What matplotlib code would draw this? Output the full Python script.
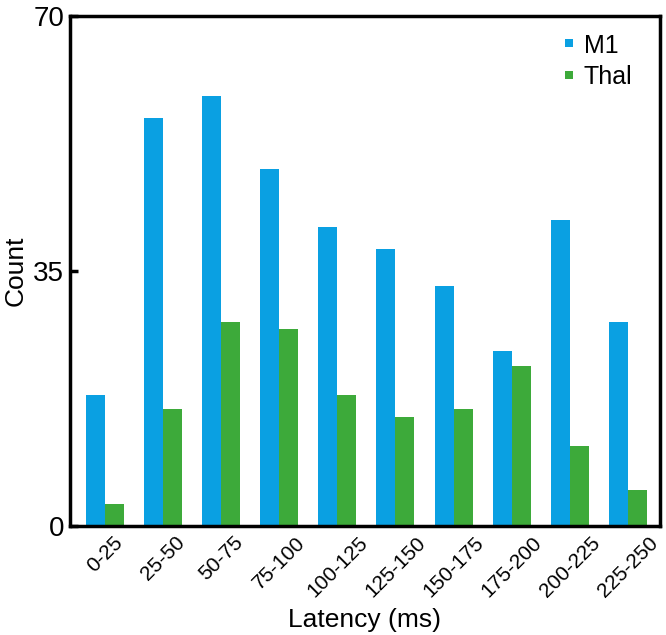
import matplotlib
matplotlib.use("Agg")
import matplotlib.pyplot as plt
import numpy as np

categories = ["0-25", "25-50", "50-75", "75-100", "100-125", "125-150",
              "150-175", "175-200", "200-225", "225-250"]
m1 = [18, 56, 59, 49, 41, 38, 33, 24, 42, 28]
thal = [3, 16, 28, 27, 18, 15, 16, 22, 11, 5]
yticks = [0, 35, 70]

plt.rcParams['font.family'] = ['Liberation Sans', 'DejaVu Sans']

fig = plt.figure(figsize=(6.66, 6.35), dpi=100)
ax = fig.add_axes([0.105, 0.1717, 0.886, 0.803])

x = np.arange(len(categories))
w = 0.327
ax.bar(x - w/2, m1, width=w, color='#0AA0E2', label='M1')
ax.bar(x + w/2, thal, width=w, color='#3DAA3A', label='Thal')

ax.set_xlim(-0.60, len(categories) - 1 + 0.55)
ax.set_ylim(0, 70)
ax.set_yticks(yticks)
ax.set_yticklabels([str(v) for v in yticks], fontsize=20)
ax.set_xticks(x)
ax.set_xticklabels(categories, rotation=45, ha='center', va='top', fontsize=15)
ax.tick_params(axis='x', length=0, pad=5)
ax.tick_params(axis='y', direction='in', length=6, width=2.5, pad=4)
for s in ax.spines.values():
    s.set_linewidth(2.5)

ax.set_xlabel('Latency (ms)', fontsize=19, labelpad=5)
ax.set_ylabel('Count', fontsize=19, labelpad=4)

ax.legend(loc='upper right', frameon=False, fontsize=18, handlelength=0.3,
          handleheight=0.12, handletextpad=0.45, borderaxespad=0.3,
          labelspacing=0.3, bbox_to_anchor=(1 - 10/590, 1.0))

fig.savefig('out.png', dpi=100)
